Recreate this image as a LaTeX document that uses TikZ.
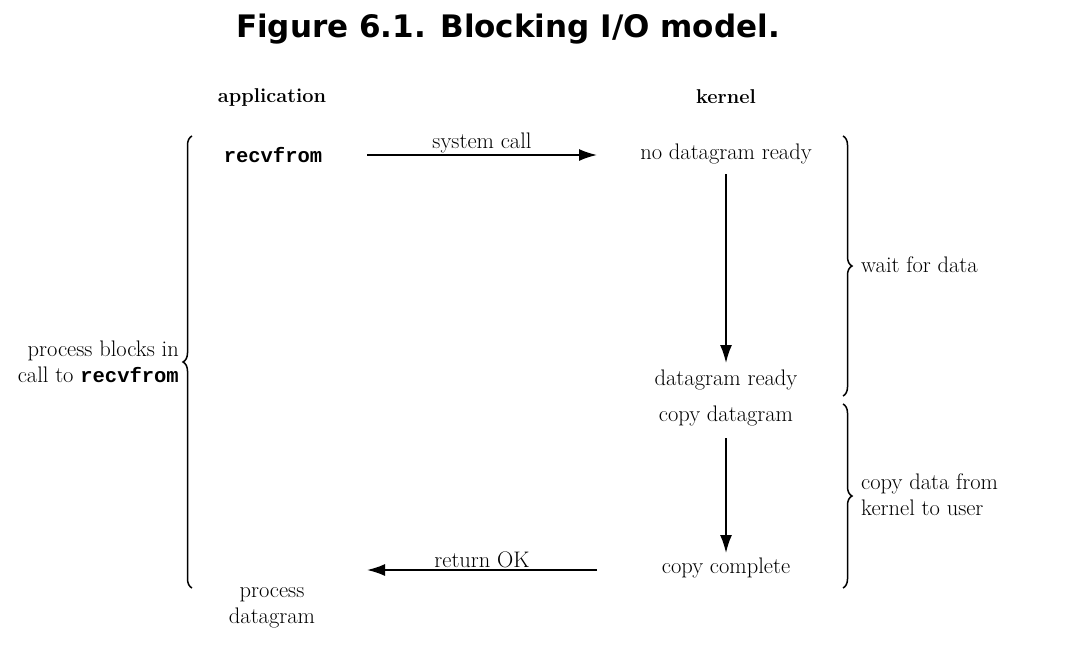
\documentclass[tikz,border=0pt]{standalone}
\usepackage{fontspec}
\setmonofont{Liberation Mono}
\newfontfamily\titlefont{DejaVu Sans}
\usetikzlibrary{arrows.meta,decorations.pathreplacing}
\begin{document}
\begin{tikzpicture}[x=1pt,y=-1pt,
  lbl/.style={inner sep=1pt,font=\fontsize{22.5}{26}\selectfont},
  head/.style={lbl,font=\fontsize{20}{24}\selectfont\bfseries},
  arr/.style={line width=1.7pt,-{Latex[length=18pt,width=12pt]}},
  brc/.style={line width=1.5pt,decorate,decoration={brace,amplitude=9pt}}]
\useasboundingbox (0,0) rectangle (1074,664);
\node[font=\titlefont\bfseries\fontsize{31}{36}\selectfont] (title) at (508,29) {Figure 6.1. Blocking I/O model.};
\node[head] (app) at (272,97) {application};
\node[head] (ker) at (726,97) {kernel};
\node[lbl,font=\fontsize{20.5}{24}\selectfont\ttfamily\bfseries] (recv) at (273,155) {recvfrom};
\node[lbl] (nodg) at (726,154) {no datagram ready};
\node[lbl] (dgr) at (726,380) {datagram ready};
\node[lbl] (cpd) at (726,416) {copy datagram};
\node[lbl] (cpc) at (726,568) {copy complete};
\node[lbl,align=center] (proc) at (272,608) {process\\datagram};
\coordinate (sc1) at (367,155);
\coordinate (sc2) at (597,155);
\draw[arr] (sc1) -- node[lbl,above=0pt] (sclbl) {system call} (sc2);
\coordinate (ro1) at (597,570);
\coordinate (ro2) at (367,570);
\draw[arr] (ro1) -- node[lbl,above=0pt] (rolbl) {return OK} (ro2);
\coordinate (v1) at (726,174);
\coordinate (v2) at (726,363);
\draw[arr] (v1) -- (v2);
\coordinate (v3) at (726,438);
\coordinate (v4) at (726,553);
\draw[arr] (v3) -- (v4);
% braces
\coordinate (lb1) at (192,588);
\coordinate (lb2) at (192,136);
\draw[brc] (lb1) -- (lb2);
\node[lbl,align=right,anchor=east] (blk) at (180,362) {process blocks in\\call to {\fontsize{20.5}{24}\selectfont\ttfamily\bfseries recvfrom}};
\coordinate (rb1) at (843,136);
\coordinate (rb2) at (843,396);
\draw[brc] (rb1) -- (rb2);
\node[lbl,anchor=west] (wait) at (860,265) {wait for data};
\coordinate (rb3) at (843,404);
\coordinate (rb4) at (843,588);
\draw[brc] (rb3) -- (rb4);
\node[lbl,align=left,anchor=west] (copy) at (860,495) {copy data from\\kernel to user};
\end{tikzpicture}
\end{document}
